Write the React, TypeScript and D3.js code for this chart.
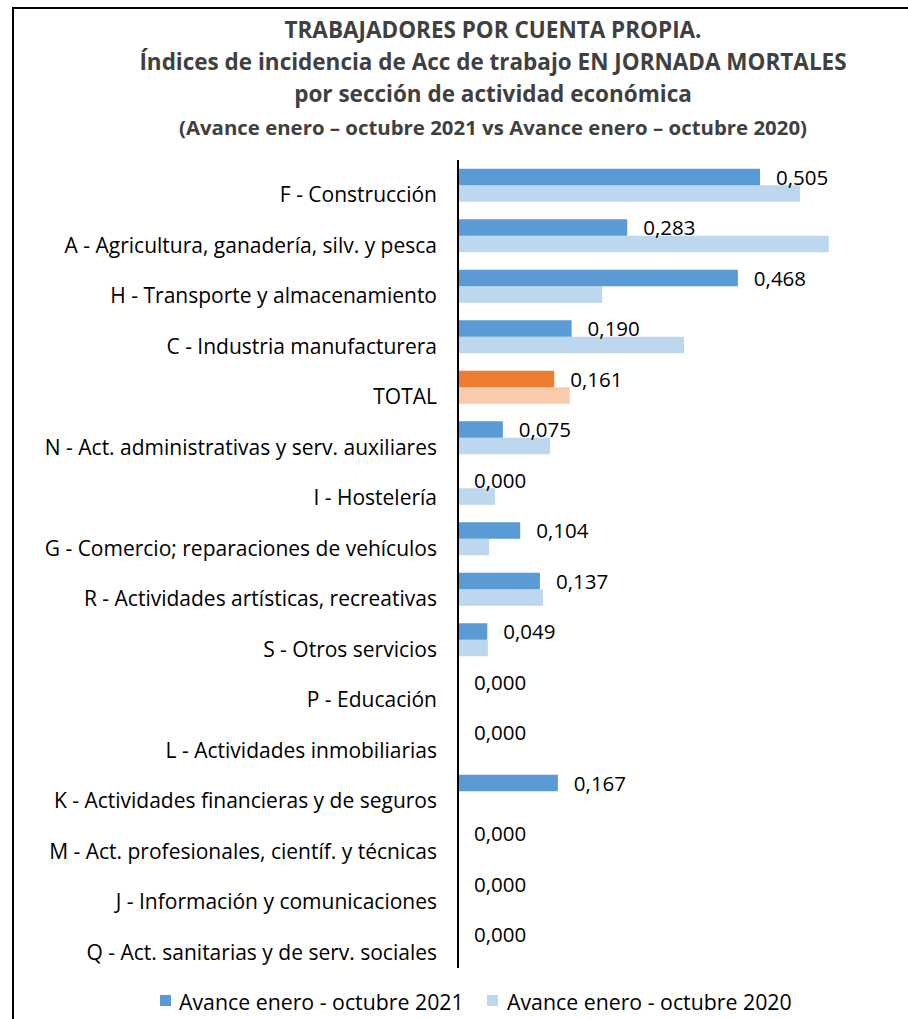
import React from "react";
import * as d3 from "d3";

const categories = [
  "F - Construcción",
  "A - Agricultura, ganadería, silv. y pesca",
  "H - Transporte y almacenamiento",
  "C - Industria manufacturera",
  "TOTAL",
  "N - Act. administrativas y serv. auxiliares",
  "I - Hostelería",
  "G - Comercio; reparaciones de vehículos",
  "R - Actividades artísticas, recreativas",
  "S - Otros servicios",
  "P - Educación",
  "L - Actividades inmobiliarias",
  "K - Actividades financieras y de seguros",
  "M - Act. profesionales, científ. y técnicas",
  "J - Información y comunicaciones",
  "Q - Act. sanitarias y de serv. sociales",
];
const values2021 = [0.505, 0.283, 0.468, 0.19, 0.161, 0.075, 0.0, 0.104, 0.137, 0.049, 0.0, 0.0, 0.167, 0.0, 0.0, 0.0];
const values2020 = [0.572, 0.62, 0.241, 0.378, 0.187, 0.154, 0.062, 0.052, 0.142, 0.05, 0.0, 0.0, 0.0, 0.0, 0.0, 0.0];
const seriesNames = ["Avance enero - octubre 2021", "Avance enero - octubre 2020"];
const titleLines = [
  "TRABAJADORES POR CUENTA PROPIA.",
  "Índices de incidencia de Acc de trabajo EN JORNADA MORTALES",
  "por sección de actividad económica",
];
const subtitle = "(Avance enero – octubre 2021 vs Avance enero – octubre 2020)";

const W = 908;
const H = 1019;
const FONT = "'Open Sans', Lato, sans-serif";

export default function App() {
  const x = d3.scaleLinear().domain([0, 0.6]).range([458, 458 + 0.6 * 598]);
  const y = d3.scaleBand<string>().domain(categories).range([160, 968]);
  const sub = d3.scaleBand<string>().domain(["2021", "2020"]).range([0, y.bandwidth()]).paddingOuter(0.53);
  const fmt = (v: number) => v.toFixed(3).replace(".", ",");
  const color = (cat: string, s: string) => {
    const total = cat === "TOTAL";
    if (s === "2021") return total ? "#ED7D31" : "#5B9BD5";
    return total ? "#F8CBAD" : "#BDD7EE";
  };
  return (
    <svg width={W} height={H} style={{ position: "absolute", left: 0, top: 0, background: "#fff" }} fontFamily={FONT}>
      <rect x={0} y={0} width={W} height={H} fill="#fff" />
      <line x1={12} y1={8} x2={W} y2={8} stroke="#000" strokeWidth={2} />
      <line x1={13} y1={8} x2={13} y2={H} stroke="#000" strokeWidth={2} />
      {titleLines.map((t, i) => (
        <text key={i} x={493} y={[38, 70, 102][i]} textAnchor="middle" fontSize={22.5} fontWeight={700} fill="#404040">
          {t}
        </text>
      ))}
      <text x={493} y={135} textAnchor="middle" fontSize={20.4} fontWeight={700} fill="#404040">
        {subtitle}
      </text>
      {categories.map((c, i) => {
        const y0 = y(c)!;
        return (
          <g key={c}>
            <text x={437} y={y0 + y.bandwidth() / 2 + 9} textAnchor="end" dominantBaseline="central" fontSize={21} fill="#000">
              {c}
            </text>
            {values2020[i] > 0 && (
              <rect x={x(0)} y={y0 + sub("2020")!} width={x(values2020[i]) - x(0)} height={sub.bandwidth()} fill={color(c, "2020")} />
            )}
            {values2021[i] > 0 && (
              <rect x={x(0)} y={y0 + sub("2021")!} width={x(values2021[i]) - x(0)} height={sub.bandwidth()} fill={color(c, "2021")} />
            )}
            <text
              x={x(values2021[i]) + 16}
              y={y0 + sub("2021")! + sub.bandwidth() / 2}
              dominantBaseline="central"
              fontSize={20.5}
              fill="#000"
            >
              {fmt(values2021[i])}
            </text>
          </g>
        );
      })}
      <line x1={x(0)} y1={160} x2={x(0)} y2={968} stroke="#000" strokeWidth={2} />
      <g>
        <rect x={160} y={995} width={11} height={11} fill="#5B9BD5" />
        <text x={179} y={1001} dominantBaseline="central" fontSize={21.3} fill="#000">{seriesNames[0]}</text>
        <rect x={487} y={995} width={11} height={11} fill="#BDD7EE" />
        <text x={507} y={1001} dominantBaseline="central" fontSize={21.3} fill="#000">{seriesNames[1]}</text>
      </g>
    </svg>
  );
}
